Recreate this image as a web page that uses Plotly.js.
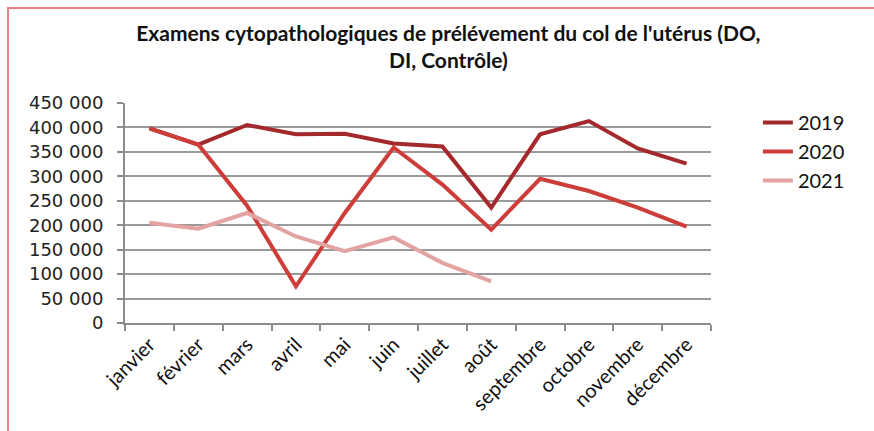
<!DOCTYPE html>
<html>
<head>
<meta charset="utf-8">
<script src="https://cdn.plot.ly/plotly-3.0.1.min.js"></script>
<style>
    body { margin: 0; background: #fff; }
    #wrap { position: relative; width: 874px; height: 431px; }
    #chart { width: 874px; height: 431px; }
    #frame {
        position: absolute; left: 7px; top: 7px; width: 870px; height: 430px;
        border-top: 2px solid #ee7d87; border-left: 2px solid #ee7d87;
        pointer-events: none;
    }
</style>
</head>
<body>
<div id="wrap">
    <div id="chart"></div>
    <div id="frame"></div>
</div>
<script>
let mois = ["janvier", "février", "mars", "avril", "mai", "juin", "juillet",
    "août", "septembre", "octobre", "novembre", "décembre"];

let v2019 = [398000, 365000, 405000, 386000, 387000, 367000, 361000, 236000, 386000, 413000, 357000, 326000];
let v2020 = [398000, 365000, 240000, 75000, 225000, 359000, 283000, 191000, 295000, 270000, 236000, 197000];
let v2021 = [205000, 193000, 225000, 177000, 147000, 175000, 123000, 85000];

let trace2019 = {
    x: mois,
    y: v2019,
    type: "scatter",
    mode: "lines",
    name: "2019",
    line: { color: "#a3292c", width: 4 }
}

let trace2020 = {
    x: mois,
    y: v2020,
    type: "scatter",
    mode: "lines",
    name: "2020",
    line: { color: "#cd3d39", width: 4 }
}

let trace2021 = {
    x: mois.slice(0, v2021.length),
    y: v2021,
    type: "scatter",
    mode: "lines",
    name: "2021",
    line: { color: "#e3a3a3", width: 4 }
}

let layout = {
    width: 874,
    height: 431,
    margin: { l: 125, r: 163, t: 103, b: 108 },
    paper_bgcolor: "#ffffff",
    plot_bgcolor: "#ffffff",
    separators: ", ",
    showlegend: true,
    title: {
        text: "<b>Examens cytopathologiques de prélévement du col de l'utérus (DO,<br>DI, Contrôle)</b>",
        font: { family: "Lato", size: 21, color: "#111" },
        x: 0.513,
        xanchor: "center",
        y: 0.906,
        yanchor: "top"
    },
    xaxis: {
        type: "category",
        range: [-0.5, 11.5],
        showgrid: false,
        showline: true,
        linecolor: "#8c8c8c",
        linewidth: 2,
        ticks: "outside",
        tickson: "boundaries",
        ticklen: 6,
        tickcolor: "#8c8c8c",
        tickwidth: 2,
        tickangle: -45,
        tickfont: { family: "Lato", size: 20, color: "#111" }
    },
    yaxis: {
        range: [0, 450000],
        dtick: 50000,
        tickformat: ",d",
        showgrid: true,
        gridcolor: "#9a9a9a",
        gridwidth: 2,
        zeroline: false,
        showline: true,
        linecolor: "#8c8c8c",
        linewidth: 2,
        ticks: "outside",
        ticklen: 6,
        tickcolor: "#8c8c8c",
        tickwidth: 2,
        ticklabelstandoff: 10,
        tickfont: { family: "DejaVu Sans", size: 18, color: "#222" }
    },
    legend: {
        x: 1.08,
        xanchor: "left",
        y: 1.0,
        yanchor: "top",
        font: { family: "Lato", size: 20, color: "#111" },
        itemwidth: 30
    }
}

Plotly.newPlot("chart", [trace2019, trace2020, trace2021], layout, { displayModeBar: false });
</script>
</body>
</html>
